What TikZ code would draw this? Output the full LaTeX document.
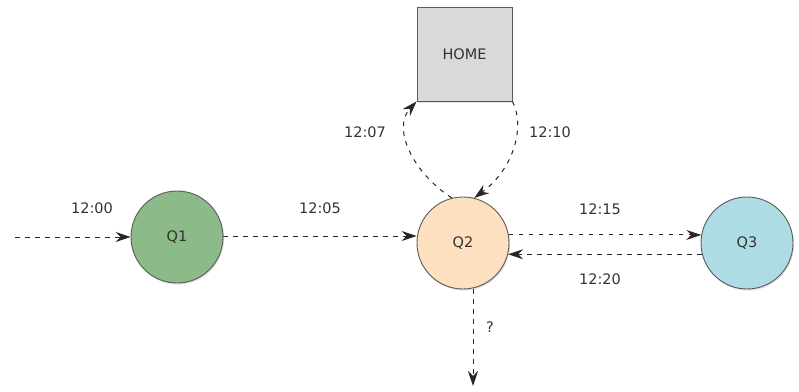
\documentclass[tikz,border=0pt]{standalone}
\usepackage{fontspec}
\setmainfont{DejaVu Sans}
\usetikzlibrary{arrows.meta,shadows}
\definecolor{qone}{HTML}{8CBA89}
\definecolor{qtwo}{HTML}{FDE0BF}
\definecolor{qthree}{HTML}{AEDCE4}
\definecolor{homegray}{HTML}{D9D9D9}
\definecolor{edgegray}{HTML}{5A5A5A}
\tikzset{
  state/.style={circle, draw=edgegray, line width=0.9pt, minimum size=92pt, inner sep=0pt,
    font=\fontsize{14.5}{17}\selectfont, text=black!80, drop shadow={opacity=0.25, shadow xshift=1pt, shadow yshift=-1.5pt}},
  homebox/.style={rectangle, draw=edgegray, line width=0.9pt, fill=homegray, minimum width=95pt, minimum height=94pt,
    inner sep=0pt, font=\fontsize{14.5}{17}\selectfont, text=black!80, drop shadow={opacity=0.25, shadow xshift=1pt, shadow yshift=-1.5pt}},
  flow/.style={draw=black!85, line width=1pt, dash pattern=on 4.5pt off 5.5pt, -{Stealth[length=15pt,width=10pt,inset=5pt]}},
  lbl/.style={font=\fontsize{14.5}{17}\selectfont, text=black!80}
}
\begin{document}
\begin{tikzpicture}[x=1pt,y=-1pt]
\useasboundingbox (0,0) rectangle (799,391);
\node[state, fill=qone] (q1) at (177,237) {Q1};
\node[state, fill=qtwo] (q2) at (463,243) {Q2};
\node[state, fill=qthree] (q3) at (747,243) {Q3};
\node[homebox] (home) at (464.5,54) {HOME};
\coordinate (src) at (15,237);
\coordinate (sink) at (473,386);

\draw[flow] (src) -- (q1.west |- src);
\draw[flow] (q1.east |- 0,236) -- (q2.west |- 0,236);
\draw[flow] (q2.10) -- (q3.170);
\draw[flow] (q3.-166) -- (q2.-14);
\draw[flow] (q2.south -| sink) -- (sink);
\draw[flow] (q2.104) .. controls (412,172) and (392,128) .. (home.south west);
\draw[flow] (home.south east) .. controls (525,125) and (515,168) .. (q2.76);

\node[lbl] (l1) at (92,208) {12:00};
\node[lbl] (l2) at (320,208) {12:05};
\node[lbl] (l3) at (600,209) {12:15};
\node[lbl] (l4) at (600,279) {12:20};
\node[lbl] (l5) at (490,327) {?};
\node[lbl] (l6) at (365,132) {12:07};
\node[lbl] (l7) at (550,132) {12:10};
\end{tikzpicture}
\end{document}
